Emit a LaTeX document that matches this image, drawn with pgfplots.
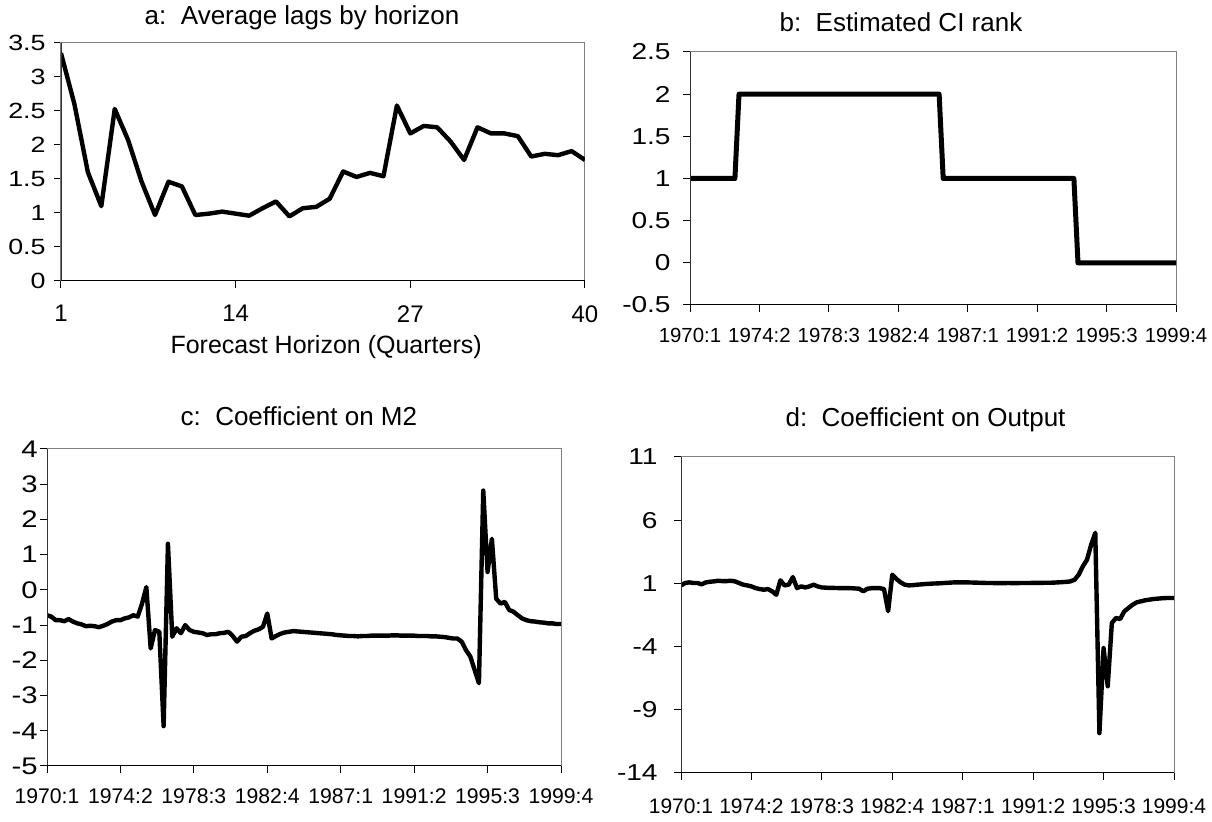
\documentclass[border=0pt]{standalone}
\usepackage{fontspec}
\setmainfont{Liberation Sans}
\newfontfamily\widefont[FakeStretch=1.22]{Liberation Sans}
\usepackage{pgfplots}
\pgfplotsset{compat=1.18}
\pgfplotsset{
  panel/.style={
    scale only axis,
    anchor=south west,
    axis line style={black!50, line width=0.5pt},
    tick pos=left,
    tick align=outside,
    major tick length=3.5pt,
    tick style={black, line width=0.5pt},
    /pgf/number format/assume math mode=true,
    title style={inner sep=0pt, anchor=base, font=\fontsize{13}{15}\selectfont},
    xticklabel style={inner sep=0pt, anchor=north},
    yticklabel style={inner sep=0pt, anchor=east},
  },
  dataline/.style={black, line width=2.2pt, line join=round, no markers},
}
\newcommand{\axlines}{%
  \draw[black!80, line width=0.6pt] (rel axis cs:0,0) -- (rel axis cs:0,1);
  \draw[black, line width=0.9pt] (rel axis cs:0,0) -- (rel axis cs:1,0);}
\begin{document}
\begin{tikzpicture}
\path[use as bounding box] (0,0) rectangle (606pt,411pt);

% ---------------- panel a ----------------
\begin{axis}[panel,
  at={(30.5pt,270.5pt)}, width=262pt, height=119pt,
  xmin=1, xmax=40, ymin=0, ymax=3.5,
  xtick={1,14,27,40},
  ytick={0,0.5,1,1.5,2,2.5,3,3.5},
  yticklabels={0,0.5,1,1.5,2,2.5,3,3.5},
  title={a:~~Average lags by horizon},
  title style={at={(0.46,1)}, yshift=3pt},
  xlabel={Forecast Horizon (Quarters)},
  xlabel style={at={(0.506,0)}, anchor=base, inner sep=0pt, yshift=-36.5pt, font=\fontsize{12.5}{14}\selectfont},
  xticklabel style={font=\fontsize{12}{14}\selectfont, yshift=-8.5pt},
  yticklabel style={font=\widefont\fontsize{11}{13}\selectfont, xshift=-4pt},
]
\addplot[dataline, line width=2.2pt] table {
1 3.35
2 2.60
3 1.60
4 1.10
5 2.53
6 2.07
7 1.46
8 0.97
9 1.46
10 1.39
11 0.97
12 0.99
13 1.02
14 0.99
15 0.96
16 1.07
17 1.17
18 0.95
19 1.07
20 1.09
21 1.21
22 1.61
23 1.53
24 1.59
25 1.54
26 2.58
27 2.17
28 2.28
29 2.26
30 2.05
31 1.78
32 2.26
33 2.17
34 2.17
35 2.13
36 1.83
37 1.87
38 1.85
39 1.91
40 1.78
};
\axlines
\end{axis}

% ---------------- panel b ----------------
\begin{axis}[panel,
  at={(345pt,258.5pt)}, width=243pt, height=126.5pt,
  xmin=1, xmax=120, ymin=-0.5, ymax=2.5,
  xtick={1,18,35,52,69,86,103,120},
  xticklabels={1970:1,1974:2,1978:3,1982:4,1987:1,1991:2,1995:3,1999:4},
  ytick={-0.5,0,0.5,1,1.5,2,2.5},
  yticklabels={-0.5,0,0.5,1,1.5,2,2.5},
  title={b:~~Estimated CI rank},
  title style={at={(0.434,1)}, yshift=4pt},
  xticklabel style={font=\fontsize{10.2}{12}\selectfont, yshift=-8pt},
  yticklabel style={font=\widefont\fontsize{11.5}{13}\selectfont, xshift=-6pt},
]
\addplot[dataline, line width=2.5pt] table {
1 1
12 1
13 2
62 2
63 1
95 1
96 0
120 0
};
\axlines
\end{axis}

% ---------------- panel c ----------------
\begin{axis}[panel,
  at={(23.5pt,28pt)}, width=257pt, height=158.5pt,
  xmin=1, xmax=120, ymin=-5, ymax=4,
  xtick={1,18,35,52,69,86,103,120},
  xticklabels={1970:1,1974:2,1978:3,1982:4,1987:1,1991:2,1995:3,1999:4},
  ytick={-5,-4,-3,-2,-1,0,1,2,3,4},
  yticklabels={-5,-4,-3,-2,-1,0,1,2,3,4},
  title={c:~~Coefficient on M2},
  title style={at={(0.49,1)}, yshift=5.5pt},
  xticklabel style={font=\fontsize{10.6}{13}\selectfont, yshift=-7.5pt},
  yticklabel style={font=\widefont\fontsize{12}{14}\selectfont, xshift=-1pt},
]
\addplot[dataline] table {
1 -0.72
2 -0.76
3 -0.86
4 -0.86
5 -0.89
6 -0.83
7 -0.90
8 -0.95
9 -0.98
10 -1.03
11 -1.02
12 -1.03
13 -1.06
14 -1.02
15 -0.97
16 -0.90
17 -0.86
18 -0.86
19 -0.81
20 -0.78
21 -0.72
22 -0.76
23 -0.39
24 0.08
25 -1.66
26 -1.14
27 -1.19
28 -3.87
29 1.31
30 -1.33
31 -1.09
32 -1.23
33 -1.00
34 -1.14
35 -1.19
36 -1.21
37 -1.23
38 -1.28
39 -1.26
40 -1.26
41 -1.23
42 -1.22
43 -1.19
44 -1.31
45 -1.47
46 -1.33
47 -1.31
48 -1.23
49 -1.16
50 -1.12
51 -1.05
52 -0.67
53 -1.38
54 -1.31
55 -1.25
56 -1.21
57 -1.19
58 -1.17
59 -1.18
60 -1.19
61 -1.20
62 -1.21
63 -1.22
64 -1.23
65 -1.24
66 -1.25
67 -1.26
68 -1.28
69 -1.29
70 -1.30
71 -1.31
72 -1.31
73 -1.32
74 -1.31
75 -1.31
76 -1.30
77 -1.30
78 -1.30
79 -1.30
80 -1.30
81 -1.29
82 -1.29
83 -1.30
84 -1.30
85 -1.30
86 -1.30
87 -1.31
88 -1.31
89 -1.31
90 -1.32
91 -1.32
92 -1.33
93 -1.34
94 -1.36
95 -1.38
96 -1.38
97 -1.47
98 -1.71
99 -1.89
100 -2.27
101 -2.65
102 2.82
103 0.51
104 1.45
105 -0.25
106 -0.39
107 -0.34
108 -0.57
109 -0.62
110 -0.72
111 -0.81
112 -0.86
113 -0.89
114 -0.90
115 -0.92
116 -0.93
117 -0.95
118 -0.95
119 -0.97
120 -0.97
};
\axlines
\end{axis}

% ---------------- panel d ----------------
\begin{axis}[panel,
  at={(340.5pt,24.5pt)}, width=246.5pt, height=158pt,
  xmin=1, xmax=120, ymin=-14, ymax=11,
  xtick={1,18,35,52,69,86,103,120},
  xticklabels={1970:1,1974:2,1978:3,1982:4,1987:1,1991:2,1995:3,1999:4},
  ytick={-14,-9,-4,1,6,11},
  yticklabels={-14,-9,-4,1,6,11},
  title={d:~~Coefficient on Output},
  title style={at={(0.496,1)}, yshift=9pt},
  xticklabel style={font=\fontsize{10.5}{12}\selectfont, yshift=-9pt},
  yticklabel style={font=\widefont\fontsize{11.5}{13}\selectfont, xshift=-8pt},
]
\addplot[dataline] table {
1 0.84
2 1.03
3 1.08
4 1.03
5 1.03
6 0.92
7 1.08
8 1.13
9 1.16
10 1.21
11 1.18
12 1.18
13 1.21
14 1.16
15 1.03
16 0.90
17 0.84
18 0.76
19 0.63
20 0.55
21 0.50
22 0.55
23 0.37
24 0.10
25 1.24
26 0.84
27 0.90
28 1.50
29 0.63
30 0.76
31 0.68
32 0.76
33 0.90
34 0.76
35 0.68
36 0.66
37 0.64
38 0.64
39 0.63
40 0.63
41 0.63
42 0.62
43 0.60
44 0.58
45 0.37
46 0.58
47 0.62
48 0.63
49 0.62
50 0.55
51 -1.20
52 1.69
53 1.35
54 1.08
55 0.90
56 0.84
57 0.86
58 0.90
59 0.92
60 0.95
61 0.97
62 0.99
63 1.00
64 1.02
65 1.04
66 1.06
67 1.08
68 1.08
69 1.08
70 1.08
71 1.07
72 1.06
73 1.05
74 1.04
75 1.03
76 1.03
77 1.02
78 1.02
79 1.02
80 1.03
81 1.02
82 1.02
83 1.03
84 1.03
85 1.03
86 1.04
87 1.04
88 1.04
89 1.05
90 1.05
91 1.06
92 1.08
93 1.10
94 1.12
95 1.16
96 1.29
97 1.69
98 2.35
99 2.87
100 4.06
101 5.00
102 -10.85
103 -4.12
104 -7.14
105 -2.13
106 -1.74
107 -1.82
108 -1.21
109 -0.95
110 -0.69
111 -0.50
112 -0.42
113 -0.34
114 -0.29
115 -0.24
116 -0.21
117 -0.18
118 -0.16
119 -0.16
120 -0.16
};
\axlines
\end{axis}
\end{tikzpicture}
\end{document}
